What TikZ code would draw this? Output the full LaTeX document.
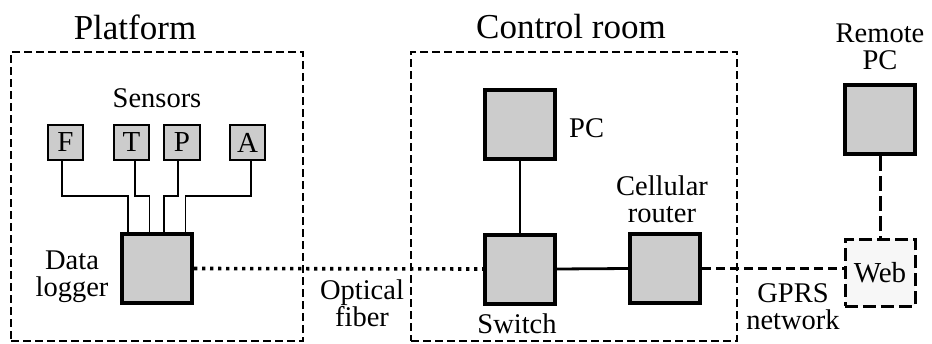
\documentclass[tikz,border=0pt]{standalone}
\usepackage{fontspec}
\setmainfont{Liberation Serif}
\begin{document}
\begin{tikzpicture}[x=1pt,y=-1pt,
  lbl/.style={font=\fontsize{28.5}{27}\selectfont, align=center, inner sep=0pt},
  ttl/.style={font=\fontsize{35}{36}\selectfont, inner sep=0pt},
  frame/.style={draw, line width=2.8pt, dash pattern=on 8pt off 4pt},
  sensor/.style={draw, line width=1.8pt, fill=gray!40, minimum width=35.5pt, minimum height=35.5pt, inner sep=0pt, font=\fontsize{29}{29}\selectfont},
  dev/.style={draw, line width=4pt, fill=gray!40, minimum width=70pt, minimum height=69pt, inner sep=0pt},
  thin/.style={line width=1.8pt},
  solid2/.style={line width=2.8pt},
  dots/.style={line width=3.6pt, dash pattern=on 3.4pt off 4.6pt},
  dash2/.style={line width=2.8pt, dash pattern=on 9pt off 5pt},
  dash3/.style={line width=3pt, dash pattern=on 15pt off 5pt}
]
\useasboundingbox (0,0) rectangle (932,343);
% frames
\node[frame, minimum width=292pt, minimum height=289pt, inner sep=0pt] (plat) at (157,196.5) {};
\node[frame, minimum width=326pt, minimum height=289pt, inner sep=0pt] (ctrl) at (574,196.5) {};
\node[ttl] (plattl) at (135,27) {Platform};
\node[ttl] (ctrltl) at (571,27) {Control room};
% sensors
\node[lbl] (sens) at (157,98) {Sensors};
\node[sensor] (F) at (65.5,142.5) {F};
\node[sensor] (T) at (131.5,142.5) {T};
\node[sensor] (P) at (182,142.5) {P};
\node[sensor] (A) at (247.5,142.5) {A};
% devices
\node[dev] (L) at (157,268.5) {};
\node[lbl] (Llbl) at (72,277) {Data\\logger};
\node[dev] (PC) at (520,124.5) {};
\node[lbl, anchor=west] (PClbl) at (569,128) {PC};
\node[dev] (SW) at (520,269) {};
\node[lbl] (SWlbl) at (517,324) {Switch};
\node[dev] (R) at (665,268.5) {};
\node[lbl] (Rlbl) at (662,199) {Cellular\\router};
\node[draw, line width=3pt, dash pattern=on 13pt off 5pt, fill=black!3, minimum width=70pt, minimum height=67pt, inner sep=0pt, font=\fontsize{29}{29}\selectfont] (W) at (880,272.5) {Web};
\node[dev] (RPC) at (880,119.5) {};
\node[lbl] (RPClbl) at (880,47) {Remote\\PC};
\node[lbl] (opt) at (362,303) {Optical\\fiber};
\node[lbl] (gprs) at (793,307) {GPRS\\network};
% sensor wiring
\draw[thin] ([xshift=-3.5pt]F.south) |- ([xshift=-29pt]L.north |- 0,196) -- ([xshift=-29pt]L.north);
\draw[thin] ([xshift=3.5pt]T.south) |- ([xshift=-7.5pt]L.north |- 0,196) -- ([xshift=-7.5pt]L.north);
\draw[thin] ([xshift=-4pt]P.south) |- ([xshift=7pt]L.north |- 0,196) -- ([xshift=7pt]L.north);
\draw[thin] ([xshift=3.5pt]A.south) |- ([xshift=28.5pt]L.north |- 0,196) -- ([xshift=28.5pt]L.north);
% links
\draw[dots] (L.east) -- (SW.west);
\draw[solid2] (PC.south) -- (SW.north);
\draw[solid2] (SW.east) -- (R.west);
\draw[dash2] (R.east) -- (W.west |- R.east);
\draw[dash3] (RPC.south) -- (W.north);
\end{tikzpicture}
\end{document}
